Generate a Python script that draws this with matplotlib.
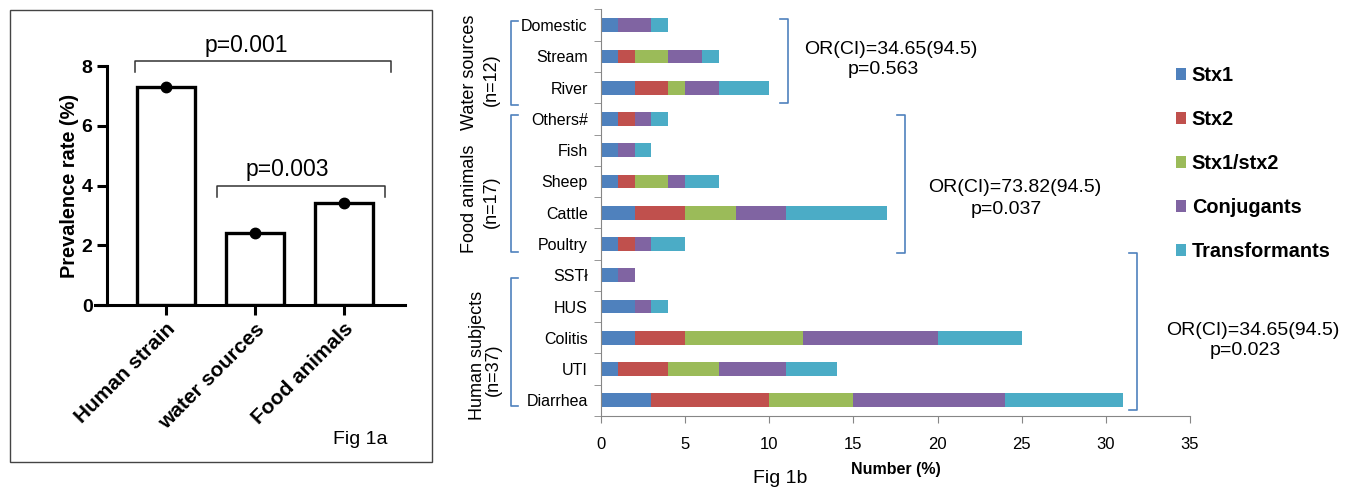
import numpy as np
import matplotlib.pyplot as plt
import matplotlib.patches as pc

plt.rcParams['font.family'] = ['Liberation Sans', 'DejaVu Sans']

# Fig 1a data
groups_a = ['Human strain', 'water sources', 'Food animals']
prev_rate = [7.3, 2.4, 3.4]

# Fig 1b data (bottom -> top)
cats = ['Diarrhea', 'UTI', 'Colitis', 'HUS', 'SST\u0142',
        'Poultry', 'Cattle', 'Sheep', 'Fish', 'Others#',
        'River', 'Stream', 'Domestic']
series_names = ['Stx1', 'Stx2', 'Stx1/stx2', 'Conjugants', 'Transformants']
stx1 = [3, 1, 2, 2, 1, 1, 2, 1, 1, 1, 2, 1, 1]
stx2 = [7, 3, 3, 0, 0, 1, 3, 1, 0, 1, 2, 1, 0]
stx12 = [5, 3, 7, 0, 0, 0, 3, 2, 0, 0, 1, 2, 0]
conj = [9, 4, 8, 1, 1, 1, 3, 1, 1, 1, 2, 2, 2]
trans = [7, 3, 5, 1, 0, 2, 6, 2, 1, 1, 3, 1, 1]
colors = ['#4F81BD', '#C0504D', '#9BBB59', '#8064A2', '#4BACC6']

W, H = 1352, 490
fig = plt.figure(figsize=(W / 100, H / 100), dpi=100)

def fx(px):
    return px / W

def fy(py):
    return 1 - py / H

# border round fig 1a
fig.add_artist(pc.Rectangle((fx(10), fy(462)), fx(422), 452 / H, fill=False,
                            edgecolor='#444444', lw=1.0, transform=fig.transFigure))

# ---- Fig 1a ----
ax1 = fig.add_axes([fx(95), fy(305), fx(310), (305 - 66) / H])
xa = np.arange(len(groups_a))
ax1.bar(xa, prev_rate, width=0.65, facecolor='white', edgecolor='black', lw=2.4)
ax1.plot(xa, prev_rate, 'o', color='black', ms=7.5)
ax1.set_xlim(-0.798, 2.685)
ax1.set_ylim(0, 8)
ax1.set_yticks([0, 2, 4, 6, 8])
ax1.spines['top'].set_visible(False)
ax1.spines['right'].set_visible(False)
ax1.spines['left'].set_position(('axes', 0.039))
for s in ['left', 'bottom']:
    ax1.spines[s].set_linewidth(2.2)
ax1.tick_params(axis='both', width=2.2, length=7, labelsize=14)
for t in ax1.get_yticklabels():
    t.set_fontweight('bold')
ax1.set_xticks(xa)
ax1.set_xticklabels(groups_a, rotation=45, ha='right', rotation_mode='anchor',
                    fontweight='bold', fontsize=15)
ax1.set_ylabel('Prevalence rate (%)', fontweight='bold', fontsize=14.4, labelpad=2)

# significance brackets
ax1.plot([-0.348, -0.348, 2.53, 2.53], [7.8, 8.17, 8.17, 7.8], color='#333333',
         lw=1.1, clip_on=False)
ax1.text(0.9, 8.7, 'p=0.001', ha='center', va='center', fontsize=16.5)
ax1.plot([0.573, 0.573, 2.46, 2.46], [3.61, 3.98, 3.98, 3.61], color='#333333',
         lw=1.1, clip_on=False)
ax1.text(1.36, 4.52, 'p=0.003', ha='center', va='center', fontsize=16.5)
fig.text(fx(360), fy(439), 'Fig 1a', ha='center', va='center', fontsize=14)

# ---- Fig 1b ----
ax2 = fig.add_axes([fx(601), fy(416), fx(1190 - 601), (416 - 9.5) / H])
y = np.arange(len(cats))
left = np.zeros(len(cats))
data = [stx1, stx2, stx12, conj, trans]
handles = []
for vals, name, c in zip(data, series_names, colors):
    b = ax2.barh(y, vals, left=left, height=0.44, color=c, label=name)
    handles.append(b)
    left += np.array(vals)
ax2.set_ylim(-0.5, len(cats) - 0.5)
ax2.set_xlim(0, 35)
ax2.set_xticks(np.arange(0, 36, 5))
ax2.set_yticks(y)
ax2.set_yticklabels(cats, fontsize=11.5)
ax2.set_yticks(np.arange(-0.5, len(cats), 1), minor=True)
ax2.tick_params(axis='y', which='major', length=0, pad=9.5)
ax2.tick_params(axis='y', which='minor', length=5, color='#868686')
ax2.tick_params(axis='x', length=5, color='#868686', labelsize=12, pad=10)
ax2.spines['top'].set_visible(False)
ax2.spines['right'].set_visible(False)
for s in ['left', 'bottom']:
    ax2.spines[s].set_color('#868686')
ax2.set_xlabel('Number (%)', fontweight='bold', fontsize=11.5, labelpad=7)
fig.text(fx(780), fy(478), 'Fig 1b', ha='center', va='center', fontsize=14)

# group labels, one text per line (pixel positions)
group_lines = [('Water sources', 470, 72), ('(n=12)', 491, 80),
               ('Food animals', 470, 199), ('(n=17)', 491, 202),
               ('Human subjects', 477, 355), ('(n=37)', 493, 370)]
for txt, px, py in group_lines:
    fig.text(fx(px), fy(py), txt, rotation=90, ha='center', va='center',
             fontsize=13)

bcol = '#4F81BD'

def left_bracket(x, y0, y1):
    ax2.plot([x + 0.4, x, x, x + 0.4], [y0, y0, y1, y1], color=bcol, lw=1.2,
             clip_on=False)

def right_bracket(x, y0, y1):
    ax2.plot([x - 0.45, x, x, x - 0.45], [y0, y0, y1, y1], color=bcol, lw=1.2,
             clip_on=False)

left_bracket(-5.35, 9.45, 12.14)
left_bracket(-5.35, 4.75, 9.13)
left_bracket(-5.35, -0.18, 3.9)
right_bracket(11.1, 9.5, 12.2)
right_bracket(18.06, 4.7, 9.13)
right_bracket(31.85, -0.3, 4.7)

# odds ratio / p-value notes
notes = [('OR(CI)=34.65(94.5)', 17.23, 11.21), ('p=0.563', 16.76, 10.57),
         ('OR(CI)=73.82(94.5)', 24.6, 6.8), ('p=0.037', 24.1, 6.09),
         ('OR(CI)=34.65(94.5)', 38.74, 2.25), ('p=0.023', 38.27, 1.61)]
for txt, xn, yn in notes:
    ax2.text(xn, yn, txt, ha='center', va='center', fontsize=14)

leg = fig.legend(handles=handles, labels=series_names, loc='upper left',
                 bbox_to_anchor=(fx(1176), fy(66)), frameon=False,
                 handlelength=0.5, handleheight=0.5, handletextpad=0.3,
                 labelspacing=1.26, borderpad=0, borderaxespad=0,
                 prop={'weight': 'bold', 'size': 14.3})

fig.savefig('out.png', dpi=100)
